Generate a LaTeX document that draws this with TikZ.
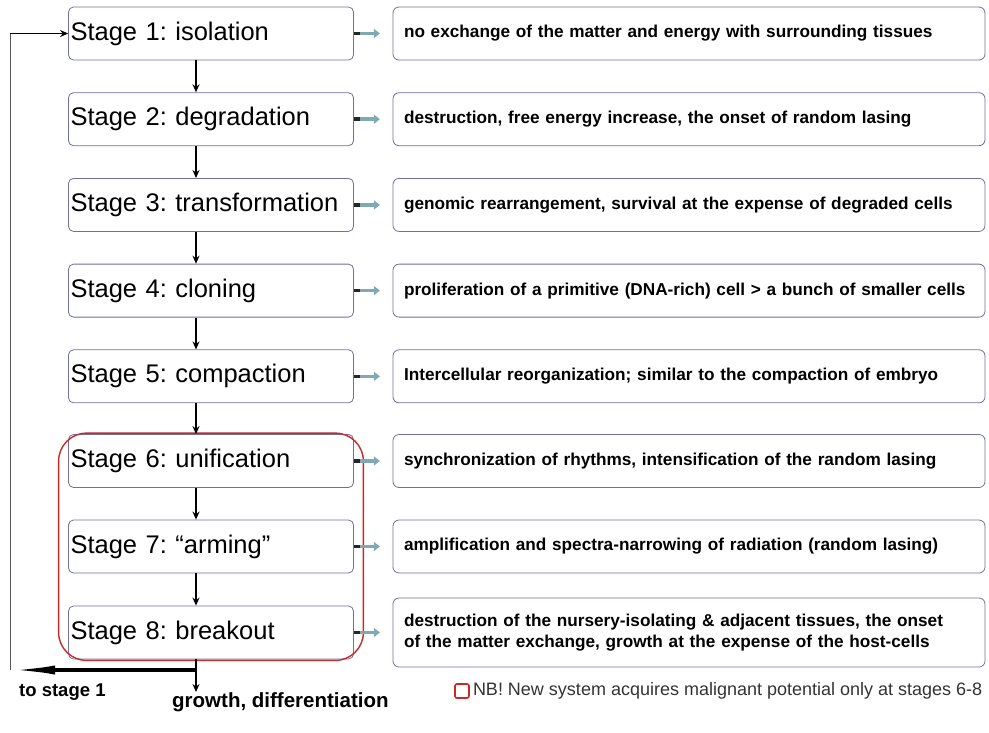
\documentclass[tikz,border=0pt]{standalone}
\usepackage{fontspec}
\setmainfont{Liberation Sans}
\newfontfamily\narrowbold{Liberation Sans Bold}
\usepackage{tikz}
\usetikzlibrary{positioning}
\usetikzlibrary{arrows}
\usetikzlibrary{arrows.meta}
\usetikzlibrary{fit,calc}
\definecolor{boxline}{RGB}{112,112,158}
\definecolor{arrowteal}{RGB}{128,170,178}
\definecolor{framered}{RGB}{200,40,40}
\frenchspacing

\begin{document}
\begin{tikzpicture}[x=1pt,y=-1pt,
        stagebox/.style={draw=boxline, thick, rounded corners=5pt, fill=white,
                         minimum width=285pt, minimum height=53pt,
                         text width=281pt, align=left, inner sep=2pt,
                         font=\fontsize{25.5}{28}\selectfont},
        notebox/.style={draw=boxline, thick, rounded corners=6pt, fill=white,
                        minimum width=592pt, minimum height=53pt,
                        text width=570pt, align=left, inner xsep=11pt, inner ysep=2pt,
                        font=\narrowbold\fontsize{17.2}{21}\selectfont},
        fatarrow/.style={line width=3.5pt, arrowteal,
                         -{Triangle[length=6pt,width=9pt]}},
        stagearrow/.style={line width=1.5pt, -{Stealth[length=8pt,width=7pt]}}]
        \useasboundingbox (0,0) rectangle (989,732);

        % stages and what happens in them
        \node[stagebox] (s1) at (211,33.5) {Stage 1: isolation};
        \node[stagebox] (s2) at (211,119.2) {Stage 2: degradation};
        \node[stagebox] (s3) at (211,204.9) {Stage 3: transformation};
        \node[stagebox] (s4) at (211,290.6) {Stage 4: cloning};
        \node[stagebox] (s5) at (211,376.3) {Stage 5: compaction};
        \node[stagebox] (s6) at (211,461) {Stage 6: unification};
        \node[stagebox] (s7) at (211,546.5) {Stage 7: ``arming''};
        \node[stagebox] (s8) at (211,632.5) {Stage 8: breakout};

        \node[notebox] (d1) at (689,33.5) {no exchange of the matter and energy with surrounding tissues};
        \node[notebox] (d2) at (689,119.2) {destruction, free energy increase, the onset of random lasing};
        \node[notebox] (d3) at (689,204.9) {genomic rearrangement, survival at the expense of degraded cells};
        \node[notebox] (d4) at (689,290.6) {proliferation of a primitive (DNA-rich) cell > a bunch of smaller cells};
        \node[notebox] (d5) at (689,376.3) {Intercellular reorganization; similar to the compaction of embryo};
        \node[notebox] (d6) at (689,461) {synchronization of rhythms, intensification of the random lasing};
        \node[notebox] (d7) at (689,546.5) {amplification and spectra-narrowing of radiation (random lasing)};
        \node[notebox, minimum height=69pt] (d8) at (689,632.5) {destruction of the nursery-isolating \& adjacent tissues, the onset\\of the matter exchange, growth at the expense of the host-cells};

        % stage 6-8 frame
        \node[fit=(s6)(s8), draw=framered, line width=1.4pt, rounded corners=28pt,
              inner xsep=9.5pt, inner ysep=1pt] (hot) {};

        \coordinate (col) at (196,0);
        \foreach \i [evaluate=\i as \j using int(\i+1)] in {1,...,7} {
            \draw[stagearrow] (s\i.south -| col) -- (s\j.north -| col);
        }
        \foreach \i in {1,...,8} {
            \draw[fatarrow] (s\i.east) -- ++(26,0);
            \draw[line width=3.5pt, black!85] (s\i.east) -- ++(6,0);
        }

        % way out and way back
        \coordinate (split) at (196,670);
        \coordinate (corner) at (10,670);
        \node[font=\bfseries\fontsize{20.5}{24}\selectfont, anchor=north west, inner sep=0pt] (grow) at (172,692) {growth, differentiation};
        \node[font=\narrowbold\fontsize{18.5}{22}\selectfont, anchor=west, inner sep=0pt] (back) at (19,692) {to stage 1};
        \draw[stagearrow] (s8.south -| col) -- (grow.north -| col);
        \draw[line width=3.5pt, -{Latex[length=45pt,width=9pt]}] (split) -- (corner);
        \draw[gray!70!black, thick] (corner) -- (corner |- s1.west);
        \draw[stagearrow] (corner |- s1.west) -- (s1.west);

        % legend
        \node[draw=framered, line width=1.6pt, rounded corners=2pt, minimum size=14pt, inner sep=0pt] (key) at (462,691) {};
        \node[right=3pt of key, inner sep=0pt, font=\fontsize{18}{21}\selectfont, text=black!80] (keytext)
            {NB! New system acquires malignant potential only at stages 6-8};
\end{tikzpicture}
\end{document}
